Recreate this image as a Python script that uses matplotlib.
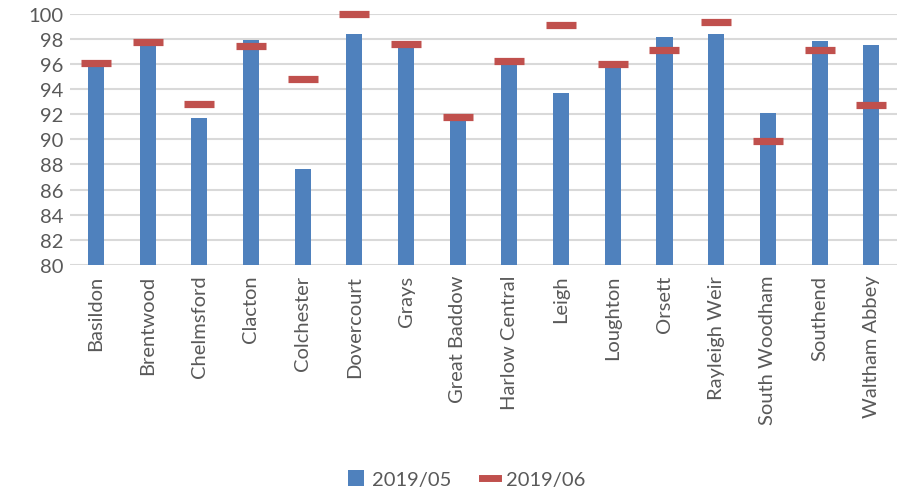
import numpy as np
import matplotlib
matplotlib.use('Agg')
import matplotlib.pyplot as plt
from matplotlib.lines import Line2D
from matplotlib.patches import Patch

branches = ['Basildon', 'Brentwood', 'Chelmsford', 'Clacton', 'Colchester',
            'Dovercourt', 'Grays', 'Great Baddow', 'Harlow Central', 'Leigh',
            'Loughton', 'Orsett', 'Rayleigh Weir', 'South Woodham',
            'Southend', 'Waltham Abbey']
may_2019 = [95.9, 97.5, 91.7, 97.9, 87.6, 98.4, 97.4, 91.6,
            96.0, 93.7, 95.8, 98.1, 98.4, 92.1, 97.8, 97.5]
jun_2019 = [96.1, 97.7, 92.8, 97.4, 94.8, 100.0, 97.6, 91.8,
            96.2, 99.1, 96.0, 97.1, 99.3, 89.9, 97.1, 92.7]

plt.rcParams['font.family'] = ['Lato', 'DejaVu Sans']
text_col = '#595959'
bar_col = '#4f81bd'
mark_col = '#c0504d'

fig = plt.figure(figsize=(8.98, 5.02), dpi=100)
ax = fig.add_axes([0.078, 0.47, 0.921, 0.501])

x = np.arange(len(branches))
ax.bar(x, np.array(may_2019) - 80, bottom=80, width=0.31, color=bar_col,
       zorder=2)
ax.plot(x, jun_2019, linestyle='none', marker='_', markersize=22,
        markeredgewidth=5.2, color=mark_col, zorder=3, clip_on=False)

ax.set_ylim(80, 100)
ax.set_xlim(-0.5, len(branches) - 0.5)
ax.set_yticks(np.arange(80, 101, 2))
ax.yaxis.grid(True, color='#d9d9d9', linewidth=1.5, zorder=0)
ax.set_axisbelow(True)
for s in ax.spines.values():
    s.set_visible(False)
ax.tick_params(axis='both', length=0, labelsize=14.5, labelcolor=text_col)
ax.tick_params(axis='y', pad=5)
ax.tick_params(axis='x', pad=7)
ax.set_xticks(x)
ax.set_xticklabels(branches, rotation=90)

handles = [Patch(facecolor=bar_col, label='2019/05'),
           Line2D([], [], color=mark_col, linewidth=5, label='2019/06')]
fig.legend(handles=handles, loc='lower center', ncol=2, frameon=False,
           bbox_to_anchor=(0.52, -0.01), fontsize=14.5, labelcolor=text_col,
           handlelength=0.8, handleheight=0.8, columnspacing=1.5,
           handletextpad=0.4)

fig.savefig('out.png', dpi=100)
